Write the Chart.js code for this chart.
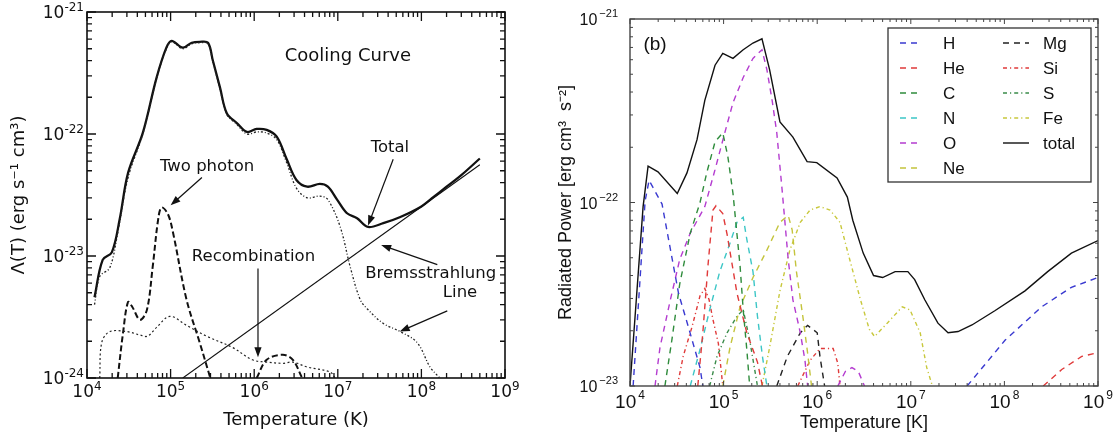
<!DOCTYPE html>
<html>
<head>
<meta charset="utf-8">
<script src="https://cdn.jsdelivr.net/npm/chart.js@4.4.1/dist/chart.umd.min.js"></script>
<style>
  html, body { margin: 0; padding: 0; background: #fff; }
  #wrap { position: relative; width: 1115px; height: 439px; overflow: hidden; }
  .panel { position: absolute; top: 0; }
  #left { left: 0; }
  #right { left: 540px; }
</style>
</head>
<body>
<div id="wrap">
  <div class="panel" id="left"><canvas id="coolingChart" width="540" height="439"></canvas></div>
  <div class="panel" id="right"><canvas id="powerChart" width="575" height="439"></canvas></div>
</div>
<script>
// ---------- left panel: [T (K), Lambda (erg s^-1 cm^3)] ----------
const coolTotal = [[1.23e4, 4.6e-24], [1.54e4, 9.3e-24], [1.98e4, 1.07e-23], [2.46e4, 2.0e-23], [3.1e4, 4.8e-23],
  [4.65e4, 1.02e-22], [6.8e4, 2.9e-22], [8.9e4, 5.1e-22], [1.03e5, 5.8e-22], [1.4e5, 5.1e-22], [1.79e5, 5.6e-22],
  [2.23e5, 5.7e-22], [2.8e5, 5.6e-22], [3.2e5, 4.0e-22], [3.9e5, 2.4e-22], [4.7e5, 1.48e-22], [6.2e5, 1.23e-22],
  [8.2e5, 1.04e-22], [1.07e6, 1.1e-22], [1.41e6, 1.08e-22], [1.86e6, 9.5e-23], [2.45e6, 6.2e-23], [3.2e6, 4.2e-23],
  [4.3e6, 3.7e-23], [6.1e6, 3.9e-23], [7.6e6, 3.7e-23], [9.8e6, 2.9e-23], [1.29e7, 2.24e-23], [1.7e7, 2.04e-23],
  [2.3e7, 1.73e-23], [3.5e7, 1.86e-23], [5.6e7, 2.09e-23], [1.0e8, 2.55e-23], [1.4e8, 3.05e-23], [2.0e8, 3.7e-23],
  [3.0e8, 4.6e-23], [5.0e8, 6.3e-23]];
const coolLine = [[1.23e4, 4.0e-24], [1.42e4, 6.8e-24], [1.87e4, 8.0e-24], [2.33e4, 1.55e-23], [3.1e4, 4.4e-23],
  [4.65e4, 1.0e-22], [6.8e4, 2.85e-22], [8.9e4, 5.0e-22], [1.03e5, 5.7e-22], [1.4e5, 5.0e-22], [1.79e5, 5.5e-22],
  [2.23e5, 5.6e-22], [2.8e5, 5.5e-22], [3.2e5, 3.9e-22], [3.9e5, 2.35e-22], [4.7e5, 1.45e-22], [6.2e5, 1.2e-22],
  [8.2e5, 1.0e-22], [1.07e6, 1.04e-22], [1.41e6, 1.02e-22], [1.86e6, 9.0e-23], [2.45e6, 5.8e-23], [3.2e6, 3.6e-23],
  [4.3e6, 3.0e-23], [6.1e6, 3.1e-23], [7.6e6, 2.9e-23], [1.07e7, 1.73e-23], [1.41e7, 8.1e-24], [1.85e7, 4.4e-24],
  [2.24e7, 3.7e-24], [3.5e7, 2.8e-24], [5.6e7, 2.4e-24], [8.9e7, 1.95e-24], [1.27e8, 1.23e-24], [1.66e8, 1.0e-24]];
const coolTwoPhoton = [[2.33e4, 1.0e-24], [2.7e4, 2.35e-24], [3.1e4, 4.2e-24], [3.5e4, 3.8e-24], [4.3e4, 3.0e-24],
  [5.2e4, 3.6e-24], [6.1e4, 8.1e-24], [7.1e4, 2.0e-23], [7.8e4, 2.5e-23], [9.3e4, 2.2e-23], [1.07e5, 1.55e-23],
  [1.55e5, 4.4e-24], [2.23e5, 1.95e-24], [2.96e5, 1.02e-24], null,
  [1.07e6, 1.0e-24], [1.41e6, 1.41e-24], [2.2e6, 1.55e-24], [2.9e6, 1.41e-24], [3.7e6, 1.02e-24]];
const coolRecomb = [[1.42e4, 1.0e-24], [1.5e4, 1.95e-24], [1.87e4, 2.4e-24], [3.0e4, 2.4e-24], [4.3e4, 2.25e-24],
  [5.3e4, 2.2e-24], [6.8e4, 2.6e-24], [9.8e4, 3.2e-24], [1.55e5, 2.7e-24], [2.7e5, 2.2e-24], [5.5e5, 1.78e-24],
  [9.5e5, 1.41e-24], [1.41e6, 1.35e-24], [2.2e6, 1.32e-24], [2.9e6, 1.35e-24], [4.3e6, 1.23e-24],
  [8.1e6, 1.12e-24], [9.3e6, 1.0e-24]];
const coolBrems = [[1.4e5, 1.0e-24], [5.0e8, 5.6e-23]];

// annotations: [label, text position, arrow tail, arrow head] in data units
const coolNotes = [
  ['Total', [4.2e7, 7.7e-23], [4.6e7, 6.2e-23], [2.3e7, 1.78e-23]],
  ['Two photon', [2.73e5, 5.4e-23], [2.37e5, 4.4e-23], [1.0e5, 2.6e-23]],
  ['Recombination', [9.8e5, 9.8e-24], [1.11e6, 7.9e-24], [1.11e6, 1.48e-24]],
  ['Bremsstrahlung', [1.29e8, 7.2e-24], [1.55e8, 8.5e-24], [3.3e7, 1.23e-23]],
  ['Line', [2.9e8, 5.0e-24], [2.04e8, 3.55e-24], [5.5e7, 2.4e-24]]
];

// ---------- right panel: [T (K), radiated power] ----------
const elemH = [[1.08e4, 1.0e-23], [1.45e4, 1.02e-22], [1.6e4, 1.32e-22], [2.2e4, 9.8e-23], [3.3e4, 3.2e-23],
  [4.2e4, 2.1e-23], [5.6e4, 1.26e-23], [6.0e4, 1.0e-23], null,
  [4.0e7, 1.0e-23], [1.02e8, 1.78e-23], [2.5e8, 2.7e-23], [5.2e8, 3.45e-23], [1.0e9, 3.9e-23]];
const elemHe = [[5.3e4, 1.0e-23], [6.0e4, 1.95e-23], [6.8e4, 4.5e-23], [7.7e4, 9.1e-23], [8.3e4, 9.6e-23],
  [9.8e4, 8.7e-23], [1.09e5, 6.7e-23], [1.39e5, 3.2e-23], [1.77e5, 1.95e-23], [2.3e5, 1.35e-23], [2.6e5, 1.0e-23], null,
  [2.6e8, 1.0e-23], [4.1e8, 1.23e-23], [6.7e8, 1.45e-23], [1.0e9, 1.52e-23]];
const elemC = [[2.36e4, 1.0e-23], [2.8e4, 1.78e-23], [3.4e4, 3.6e-23], [4.4e4, 6.8e-23], [5.6e4, 1.0e-22],
  [6.6e4, 1.45e-22], [8.1e4, 2.14e-22], [9.8e4, 2.4e-22], [1.11e5, 1.78e-22], [1.26e5, 1.12e-22], [1.5e5, 4.5e-23],
  [1.62e5, 2.6e-23], [1.77e5, 1.58e-23], [1.9e5, 1.0e-23]];
const elemN = [[4.4e4, 1.0e-23], [5.6e4, 1.58e-23], [7.1e4, 2.6e-23], [9.1e4, 4.2e-23], [1.17e5, 6.0e-23],
  [1.39e5, 7.8e-23], [1.62e5, 8.3e-23], [1.77e5, 6.3e-23], [2.06e5, 4.2e-23], [2.3e5, 2.4e-23], [2.6e5, 1.45e-23],
  [2.9e5, 1.0e-23]];
const elemO = [[1.85e4, 1.0e-23], [2.09e4, 1.62e-23], [2.7e4, 2.95e-23], [3.4e4, 4.9e-23], [4.4e4, 6.8e-23],
  [6.3e4, 9.5e-23], [8.1e4, 1.51e-22], [1.03e5, 2.4e-22], [1.26e5, 3.5e-22], [1.62e5, 4.8e-22], [2.06e5, 6.1e-22],
  [2.57e5, 6.8e-22], [2.9e5, 5.3e-22], [3.3e5, 3.6e-22], [3.7e5, 2.4e-22], [4.2e5, 1.2e-22], [4.9e5, 4.9e-23],
  [5.5e5, 2.95e-23], [6.6e5, 1.95e-23], [7.4e5, 1.38e-23], [7.9e5, 1.0e-23], null,
  [1.66e6, 1.0e-23], [2.0e6, 1.2e-23], [2.35e6, 1.26e-23], [2.75e6, 1.2e-23], [3.2e6, 1.0e-23]];
const elemNe = [[9.8e4, 1.0e-23], [1.17e5, 1.62e-23], [1.5e5, 2.7e-23], [2.06e5, 3.9e-23], [2.9e5, 5.5e-23],
  [4.0e5, 7.8e-23], [4.9e5, 8.5e-23], [5.4e5, 7.1e-23], [6.0e5, 4.2e-23], [7.1e5, 2.3e-23], [7.9e5, 1.51e-23],
  [8.7e5, 1.0e-23]];
const elemMg = [[3.7e5, 1.0e-23], [4.8e5, 1.45e-23], [6.6e5, 1.95e-23], [7.9e5, 2.14e-23], [1.0e6, 1.95e-23],
  [1.07e6, 1.45e-23], [1.2e6, 1.0e-23]];
const elemSi = [[3.2e4, 1.0e-23], [3.7e4, 1.45e-23], [4.6e4, 2.1e-23], [5.6e4, 3.1e-23], [6.3e4, 3.4e-23],
  [7.0e4, 2.95e-23], [7.7e4, 2.3e-23], [8.8e4, 1.7e-23], [9.8e4, 1.0e-23], null,
  [6.2e5, 1.0e-23], [8.4e5, 1.38e-23], [1.07e6, 1.6e-23], [1.48e6, 1.6e-23], [1.66e6, 1.33e-23], [1.75e6, 1.0e-23]];
const elemS = [[7.1e4, 1.0e-23], [8.5e4, 1.45e-23], [1.09e5, 1.95e-23], [1.39e5, 2.4e-23], [1.62e5, 2.6e-23],
  [1.9e5, 1.78e-23], [2.3e5, 1.0e-23]];
const elemFe = [[2.57e5, 1.0e-23], [3.1e5, 1.62e-23], [4.0e5, 3.3e-23], [5.1e5, 5.5e-23], [6.6e5, 7.8e-23],
  [8.4e5, 9.1e-23], [1.07e6, 9.5e-23], [1.37e6, 9.1e-23], [1.75e6, 7.8e-23], [2.2e6, 5.0e-23], [2.9e6, 2.95e-23],
  [3.6e6, 2.04e-23], [4.1e6, 1.86e-23], [5.6e6, 2.2e-23], [8.1e6, 2.7e-23], [9.8e6, 2.6e-23], [1.26e7, 1.95e-23],
  [1.48e7, 1.26e-23], [1.7e7, 1.0e-23]];
const elemTotal = [[1.0e4, 1.0e-23], [1.38e4, 9.5e-23], [1.56e4, 1.58e-22], [1.99e4, 1.47e-22], [3.2e4, 1.12e-22],
  [4.06e4, 1.45e-22], [5.2e4, 2.2e-22], [6.3e4, 3.6e-22], [8.1e4, 5.6e-22], [9.8e4, 6.5e-22], [1.26e5, 6.1e-22],
  [1.62e5, 6.8e-22], [2.06e5, 7.4e-22], [2.57e5, 7.8e-22], [3.1e5, 5.3e-22], [4.0e5, 2.75e-22], [5.5e5, 2.27e-22],
  [7.8e5, 1.67e-22], [9.9e5, 1.65e-22], [1.63e6, 1.36e-22], [2.1e6, 1.07e-22], [2.4e6, 8.0e-23], [3.1e6, 5.3e-23],
  [4.0e6, 4.0e-23], [5.0e6, 3.9e-23], [6.8e6, 4.2e-23], [9.3e6, 4.2e-23], [1.1e7, 3.8e-23], [1.41e7, 2.95e-23],
  [1.95e7, 2.2e-23], [2.5e7, 1.95e-23], [3.2e7, 1.98e-23], [4.5e7, 2.15e-23], [7.9e7, 2.57e-23], [1.66e8, 3.3e-23],
  [2.9e8, 4.2e-23], [5.2e8, 5.3e-23], [1.0e9, 6.2e-23]];

const elemNames = ['H', 'He', 'C', 'N', 'O', 'Ne', 'Mg', 'Si', 'S', 'Fe', 'total'];
const elemSeries = [elemH, elemHe, elemC, elemN, elemO, elemNe, elemMg, elemSi, elemS, elemFe, elemTotal];
const elemColors = ['#3a3ad0', '#e03a3a', '#2f8c3c', '#3cc6c6', '#b43cd0', '#c4c43c', '#222222', '#e03a3a', '#3a8c4a', '#c8c83c', '#111111'];
const DASH = [6, 5], DASHDOT = [4, 3, 1.2, 3];
const elemDashes = [DASH, DASH, DASH, DASH, DASH, DASH, DASH, DASHDOT, DASHDOT, DASHDOT, []];

// null marks a break in a curve
function toPoints(arr) {
  let lastX = 1;
  return arr.map(p => {
    if (p === null) return {x: lastX, y: null};
    lastX = p[0];
    return {x: p[0], y: p[1]};
  });
}

function drawPow(ctx, x, y, exp, o) {
  const e = String(exp).replace('-', o.minus);
  ctx.font = o.size + 'px ' + o.family;
  const w1 = ctx.measureText('10').width;
  ctx.font = o.supSize + 'px ' + o.family;
  const w2 = ctx.measureText(e).width;
  const x0 = o.align === 'right' ? x - w1 - w2 - o.gap : x - (w1 + w2 + o.gap) / 2;
  ctx.textAlign = 'left';
  ctx.textBaseline = 'alphabetic';
  ctx.font = o.size + 'px ' + o.family;
  ctx.fillText('10', x0, y);
  ctx.font = o.supSize + 'px ' + o.family;
  ctx.fillText(e, x0 + w1 + o.gap, y - o.raise);
}

// frame, inward ticks on all four sides, and power-of-ten labels
function axesPlugin(cfg) {
  return {
    id: 'axesDeco',
    afterDatasetsDraw(chart) {
      const {ctx, chartArea: a, scales: {x, y}} = chart;
      ctx.save();
      ctx.strokeStyle = cfg.color;
      ctx.lineWidth = cfg.tickWidth;
      ctx.beginPath();
      const lx0 = Math.round(Math.log10(x.min)), lx1 = Math.round(Math.log10(x.max));
      for (let e = lx0; e <= lx1; e++) {
        for (let m = 1; m <= 9; m++) {
          const v = m * Math.pow(10, e);
          if (v > x.max * 1.0001) break;
          const px = x.getPixelForValue(v), len = m === 1 ? cfg.major : cfg.minor;
          ctx.moveTo(px, a.bottom); ctx.lineTo(px, a.bottom - len);
          ctx.moveTo(px, a.top); ctx.lineTo(px, a.top + len);
        }
      }
      const ly0 = Math.round(Math.log10(y.min)), ly1 = Math.round(Math.log10(y.max));
      for (let e = ly0; e <= ly1; e++) {
        for (let m = 1; m <= 9; m++) {
          const v = m * Math.pow(10, e);
          if (v > y.max * 1.0001) break;
          const py = y.getPixelForValue(v), len = m === 1 ? cfg.major : cfg.minor;
          ctx.moveTo(a.left, py); ctx.lineTo(a.left + len, py);
          ctx.moveTo(a.right, py); ctx.lineTo(a.right - len, py);
        }
      }
      ctx.stroke();
      ctx.lineWidth = cfg.frameWidth;
      ctx.strokeRect(a.left, a.top, a.right - a.left, a.bottom - a.top);

      ctx.fillStyle = cfg.textColor;
      for (let e = lx0; e <= lx1; e++) {
        drawPow(ctx, x.getPixelForValue(Math.pow(10, e)), a.bottom + cfg.xLabelDy, e, cfg.xLab);
      }
      for (let e = ly0; e <= ly1; e++) {
        drawPow(ctx, a.left - cfg.yLabelDx, y.getPixelForValue(Math.pow(10, e)) + cfg.yLabelDy, e, cfg.yLab);
      }
      ctx.restore();
    }
  };
}

function arrow(ctx, x1, y1, x2, y2) {
  const ang = Math.atan2(y2 - y1, x2 - x1), L = 10, W = 3.6;
  ctx.beginPath();
  ctx.moveTo(x1, y1);
  ctx.lineTo(x2 - Math.cos(ang) * L * 0.8, y2 - Math.sin(ang) * L * 0.8);
  ctx.stroke();
  ctx.beginPath();
  ctx.moveTo(x2, y2);
  ctx.lineTo(x2 - Math.cos(ang) * L - Math.sin(ang) * W, y2 - Math.sin(ang) * L + Math.cos(ang) * W);
  ctx.lineTo(x2 - Math.cos(ang) * L + Math.sin(ang) * W, y2 - Math.sin(ang) * L - Math.cos(ang) * W);
  ctx.closePath();
  ctx.fill();
}

const coolNotesPlugin = {
  id: 'coolNotes',
  afterDraw(chart) {
    const {ctx, scales: {x, y}} = chart;
    ctx.save();
    ctx.fillStyle = '#111';
    ctx.strokeStyle = '#111';
    ctx.lineWidth = 1.2;
    ctx.textAlign = 'center';
    ctx.textBaseline = 'middle';
    ctx.font = '18px "DejaVu Sans"';
    ctx.fillText('Cooling Curve', x.getPixelForValue(1.32e7), y.getPixelForValue(4.3e-22));
    ctx.font = '16.5px "DejaVu Sans"';
    coolNotes.forEach(([label, t, from, to]) => {
      ctx.fillText(label, x.getPixelForValue(t[0]), y.getPixelForValue(t[1]));
      arrow(ctx, x.getPixelForValue(from[0]), y.getPixelForValue(from[1]),
        x.getPixelForValue(to[0]), y.getPixelForValue(to[1]));
    });
    ctx.restore();
  }
};

const elemLegendPlugin = {
  id: 'elemLegend',
  afterDraw(chart) {
    const {ctx, chartArea: a, scales: {x, y}} = chart;
    ctx.save();
    ctx.fillStyle = '#111';
    ctx.textAlign = 'center';
    ctx.textBaseline = 'middle';
    ctx.font = '19px "Liberation Sans"';
    ctx.fillText('(b)', x.getPixelForValue(1.85e4), y.getPixelForValue(7.2e-22));

    const bx = a.right - 210, by = a.top + 9, bw = 203, bh = 154;
    ctx.fillStyle = '#fff';
    ctx.fillRect(bx, by, bw, bh);
    ctx.strokeStyle = '#333';
    ctx.lineWidth = 1.3;
    ctx.strokeRect(bx, by, bw, bh);
    ctx.textAlign = 'left';
    ctx.font = '17px "Liberation Sans"';
    chart.data.datasets.forEach((ds, i) => {
      const col = i < 6 ? 0 : 1, row = i < 6 ? i : i - 6;
      const ly = by + 15 + row * 25;
      const sx = bx + (col ? 115 : 12), sw = col ? 26 : 21;
      ctx.strokeStyle = ds.borderColor;
      ctx.lineWidth = 1.4;
      ctx.setLineDash(ds.borderDash);
      ctx.beginPath();
      ctx.moveTo(sx, ly); ctx.lineTo(sx + sw, ly);
      ctx.stroke();
      ctx.setLineDash([]);
      ctx.fillStyle = '#111';
      ctx.fillText(ds.label, bx + (col ? 155 : 55), ly + 1);
    });
    ctx.restore();
  }
};

// ---------- left chart ----------
new Chart(document.getElementById('coolingChart'), {
  type: 'line',
  data: {
    datasets: [
      {label: 'Bremsstrahlung', data: toPoints(coolBrems), borderColor: '#111', borderWidth: 1.1, tension: 0},
      {label: 'Recombination', data: toPoints(coolRecomb), borderColor: '#222', borderWidth: 1.2, borderDash: [2, 2.5], tension: 0.35},
      {label: 'Two photon', data: toPoints(coolTwoPhoton), borderColor: '#111', borderWidth: 2, borderDash: [6, 3], tension: 0.35},
      {label: 'Line', data: toPoints(coolLine), borderColor: '#222', borderWidth: 1.3, borderDash: [2, 2, 1, 2], tension: 0.35},
      {label: 'Total', data: toPoints(coolTotal), borderColor: '#111', borderWidth: 2.3, tension: 0.35}
    ]
  },
  options: {
    responsive: false,
    animation: false,
    spanGaps: false,
    elements: {point: {radius: 0}},
    layout: {padding: {top: 12, right: 35, left: 0, bottom: 0}},
    plugins: {legend: {display: false}, tooltip: {enabled: false}},
    scales: {
      x: {
        type: 'logarithmic', min: 1e4, max: 1e9,
        grid: {display: false, drawTicks: false}, border: {display: false},
        ticks: {display: false},
        title: {display: true, text: 'Temperature (K)', color: '#111', font: {family: 'DejaVu Sans', size: 18}, padding: {top: 0, bottom: 8}},
        afterFit: s => { s.height = 61; }
      },
      y: {
        type: 'logarithmic', min: 1e-24, max: 1e-21,
        grid: {display: false, drawTicks: false}, border: {display: false},
        ticks: {display: false},
        title: {display: true, text: 'Λ(T) (erg s⁻¹ cm³)', color: '#111', font: {family: 'DejaVu Sans', size: 18}, padding: {top: 9, bottom: 0}},
        afterFit: s => { s.width = 87; }
      }
    }
  },
  plugins: [axesPlugin({
    color: '#111', textColor: '#111', tickWidth: 1.3, frameWidth: 1.6, major: 9, minor: 5,
    xLabelDy: 19, yLabelDx: 3, yLabelDy: 6,
    xLab: {family: '"DejaVu Sans"', size: 17, supSize: 12, raise: 7, gap: 0, align: 'center', minus: '-'},
    yLab: {family: '"DejaVu Sans"', size: 17, supSize: 12, raise: 7, gap: 0, align: 'right', minus: '-'}
  }), coolNotesPlugin]
});

// ---------- right chart ----------
new Chart(document.getElementById('powerChart'), {
  type: 'line',
  data: {
    datasets: elemSeries.map((s, i) => ({
      label: elemNames[i],
      data: toPoints(s),
      borderColor: elemColors[i],
      borderDash: elemDashes[i],
      borderWidth: 1.4,
      tension: 0
    }))
  },
  options: {
    responsive: false,
    animation: false,
    spanGaps: false,
    elements: {point: {radius: 0}},
    layout: {padding: {top: 19, right: 17, left: 0, bottom: 0}},
    plugins: {legend: {display: false}, tooltip: {enabled: false}},
    scales: {
      x: {
        type: 'logarithmic', min: 1e4, max: 1e9,
        grid: {display: false, drawTicks: false}, border: {display: false},
        ticks: {display: false},
        title: {display: true, text: 'Temperature [K]', color: '#111', font: {family: 'Liberation Sans', size: 18}, padding: {top: 0, bottom: 5}},
        afterFit: s => { s.height = 53; }
      },
      y: {
        type: 'logarithmic', min: 1e-23, max: 1e-21,
        grid: {display: false, drawTicks: false}, border: {display: false},
        ticks: {display: false},
        title: {display: true, text: 'Radiated Power [erg cm³  s⁻²]', color: '#111', font: {family: 'Liberation Sans', size: 18}, padding: {top: 15, bottom: 0}},
        afterFit: s => { s.width = 90; }
      }
    }
  },
  plugins: [axesPlugin({
    color: '#444', textColor: '#111', tickWidth: 1, frameWidth: 1.4, major: 5, minor: 3,
    xLabelDy: 22, yLabelDx: 12, yLabelDy: 6,
    xLab: {family: '"Liberation Sans"', size: 19, supSize: 12, raise: 9, gap: 2, align: 'center', minus: '\u2212'},
    yLab: {family: '"Liberation Sans"', size: 16, supSize: 11, raise: 8, gap: 2, align: 'right', minus: '\u2212'}
  }), elemLegendPlugin]
});
</script>
</body>
</html>
